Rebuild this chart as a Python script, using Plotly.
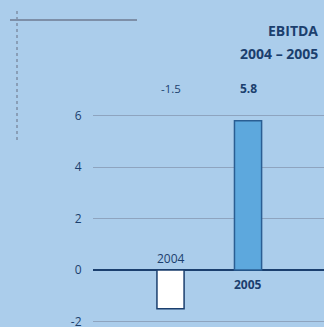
import plotly.graph_objects as go

years = ["2004", "2005"]
values = [-1.5, 5.8]
value_labels = ["-1.5", "5.8"]
tick_vals = [-2, 0, 2, 4, 6]
title_lines = ["EBITDA", "2004 – 2005"]

W, H = 324, 327
L = 93
NAVY = "#1B3F6E"
BG = "#ABCDEB"
FONT = "Open Sans"

def px_x(p):
    return (p - L) / (W - L)

def px_y(p):
    return 1 - p / H

xs = list(range(len(years)))
fig = go.Figure()
fig.add_trace(go.Bar(
    x=xs, y=values, width=0.35,
    marker=dict(color=["#FFFFFF", "#5DA8DD"],
                line=dict(color=[NAVY, "#2A5E93"], width=1.5)),
    hoverinfo="skip",
))

ann = []
ann.append(dict(x=0, y=0, xref="x", yref="y", text=years[0], showarrow=False,
                yanchor="bottom", yshift=1, font=dict(size=12, color=NAVY, family=FONT)))
ann.append(dict(x=1, y=0, xref="x", yref="y", text="<b>" + years[1] + "</b>", showarrow=False,
                yanchor="top", yshift=-4, font=dict(size=12, color=NAVY, family=FONT)))
ann.append(dict(x=0, y=7.07, xref="x", yref="y", text=value_labels[0], showarrow=False,
                font=dict(size=11.5, color=NAVY, family=FONT)))
ann.append(dict(x=1, y=7.07, xref="x", yref="y", text="<b>" + value_labels[1] + "</b>", showarrow=False,
                font=dict(size=12, color=NAVY, family=FONT)))
ann.append(dict(x=px_x(320), y=px_y(30), xref="paper", yref="paper", text="<b>" + title_lines[0] + "</b>",
                showarrow=False, xanchor="right", yanchor="middle", font=dict(size=14, color=NAVY, family=FONT)))
ann.append(dict(x=px_x(320), y=px_y(53), xref="paper", yref="paper", text="<b>" + title_lines[1] + "</b>",
                showarrow=False, xanchor="right", yanchor="middle", font=dict(size=14, color=NAVY, family=FONT)))

shapes = [
    dict(type="line", xref="paper", yref="paper", x0=px_x(10), x1=px_x(137), y0=px_y(20), y1=px_y(20),
         line=dict(color="#7D8FA8", width=2)),
    dict(type="line", xref="paper", yref="paper", x0=px_x(17), x1=px_x(17), y0=px_y(11), y1=px_y(140),
         line=dict(color="#7F8FA6", width=1.5, dash="dot")),
]

fig.update_layout(
    width=W, height=H,
    margin=dict(l=L, r=0, t=0, b=0),
    paper_bgcolor=BG, plot_bgcolor=BG,
    showlegend=False,
    annotations=ann, shapes=shapes,
    xaxis=dict(range=[-1.0, 1.98], showgrid=False, zeroline=False, showticklabels=False,
               fixedrange=True, automargin=False),
    yaxis=dict(range=[-2.21, 10.49], tickvals=tick_vals, ticktext=[str(v) for v in tick_vals],
               showgrid=True, gridcolor="#8EA4BF", gridwidth=1,
               zeroline=True, zerolinecolor=NAVY, zerolinewidth=2,
               ticks="outside", ticklen=8, tickcolor="rgba(0,0,0,0)",
               ticklabeloverflow="allow", automargin=False,
               tickfont=dict(size=12, color=NAVY, family=FONT), fixedrange=True),
)

fig.write_html("out.html")
